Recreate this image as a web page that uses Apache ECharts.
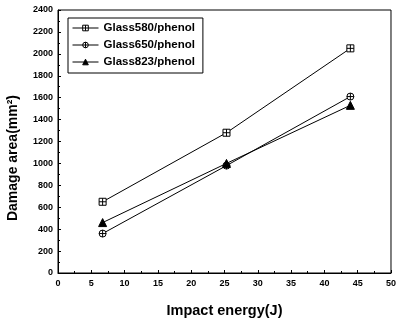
<!DOCTYPE html>
<html><head><meta charset="utf-8">
<script src="https://cdn.jsdelivr.net/npm/echarts@6/dist/echarts.min.js"></script>
<style>html,body{margin:0;padding:0;background:#fff}#c{width:399px;height:323px}</style>
</head><body><div id="c"></div>
<script>
const seriesNames = ['Glass580/phenol', 'Glass650/phenol', 'Glass823/phenol'];
const energy = [6.7, 25.3, 43.9];
const glass580 = [650, 1280, 2050];
const glass650 = [360, 980, 1610];
const glass823 = [460, 1000, 1530];
const xTitle = 'Impact energy(J)';
const yTitle = 'Damage area(mm²)';

const sqCross = 'path://M0,0H10V10H0Z M5,0V10 M0,5H10';
const circCross = 'path://M10,5A5,5,0,1,1,0,5A5,5,0,1,1,10,5Z M5,0V10 M0,5H10';
const valuesList = [glass580, glass650, glass823];
const symbols = [sqCross, circCross, 'triangle'];
const fills = ['#fff', '#fff', '#000'];

const chart = echarts.init(document.getElementById('c'), null, {renderer: 'canvas'});
const lbl = {color: '#000', fontFamily: 'Liberation Sans Narrow, Liberation Sans, Arial', fontWeight: 'bold', fontSize: 9};
chart.setOption({
  animation: false,
  backgroundColor: '#fff',
  grid: {left: 58, right: 4, top: 10, bottom: 46, show: true, borderColor: '#000', borderWidth: 1},
  graphic: [{
    type: 'text', x: 6, y: 158, rotation: Math.PI / 2,
    style: {text: yTitle, fill: '#000', font: 'bold 14px "Liberation Sans", Arial', align: 'center', verticalAlign: 'top'}
  }],
  legend: {
    orient: 'vertical', left: 68, top: 18, itemWidth: 26, itemHeight: 7, itemGap: 5,
    padding: [4, 8, 5, 4], borderColor: '#000', borderWidth: 1,
    textStyle: {color: '#000', fontFamily: 'Liberation Sans, Arial', fontWeight: 'bold', fontSize: 11.5},
    data: seriesNames.map((n, i) => ({
      name: n,
      itemStyle: {color: fills[i], borderColor: '#000', borderWidth: 1},
      lineStyle: {color: '#000', width: 1}
    }))
  },
  xAxis: {
    type: 'value', min: 0, max: 50, interval: 5,
    name: xTitle, nameLocation: 'middle', nameGap: 30,
    nameTextStyle: {color: '#000', fontFamily: 'Liberation Sans, Arial', fontWeight: 'bold', fontSize: 14.5},
    axisLine: {lineStyle: {color: '#000', width: 1}},
    axisTick: {inside: true, length: 3, lineStyle: {color: '#000'}},
    minorTick: {show: true, splitNumber: 2, length: 2, lineStyle: {color: '#000'}},
    splitLine: {show: false},
    axisLabel: Object.assign({margin: 6}, lbl)
  },
  yAxis: {
    type: 'value', min: 0, max: 2400, interval: 200,
    axisLine: {lineStyle: {color: '#000', width: 1}},
    axisTick: {inside: true, length: 3, lineStyle: {color: '#000'}},
    minorTick: {show: true, splitNumber: 2, length: 2, lineStyle: {color: '#000'}},
    splitLine: {show: false},
    axisLabel: Object.assign({margin: 5, formatter: v => String(v)}, lbl)
  },
  series: seriesNames.map((n, i) => ({
    name: n, type: 'line',
    data: energy.map((x, j) => [x, valuesList[i][j]]),
    symbol: symbols[i], symbolSize: i === 2 ? 8 : 7,
    showAllSymbol: true,
    lineStyle: {color: '#000', width: 1},
    itemStyle: {color: fills[i], borderColor: '#000', borderWidth: 1}
  }))
});
</script></body></html>
